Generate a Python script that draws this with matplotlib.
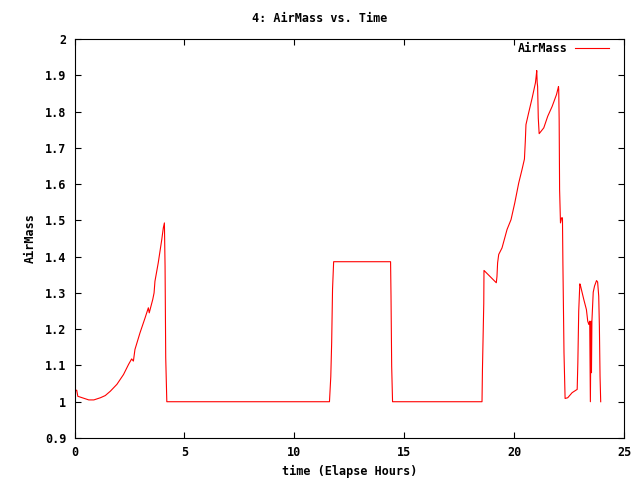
import matplotlib
matplotlib.use("Agg")
import matplotlib.pyplot as plt

time_h = [0.0, 0.1, 0.15, 0.35, 0.65, 0.88, 1.18, 1.4, 1.63, 1.93, 2.23, 2.46, 2.6, 2.68,
          2.75, 2.98, 3.21, 3.36, 3.4, 3.56, 3.62, 3.66, 3.81, 3.97, 4.04, 4.09, 4.12, 4.15, 4.2,
          11.6, 11.62, 11.66, 11.70, 11.74, 11.79, 14.38, 14.40, 14.43, 14.47,
          18.54, 18.56, 18.62, 18.63, 19.19, 19.22, 19.25, 19.3, 19.45, 19.68, 19.86, 20.03,
          20.21, 20.36, 20.47, 20.51, 20.54, 20.66, 20.82, 20.97, 21.0, 21.03, 21.05, 21.07,
          21.1, 21.14, 21.35, 21.53, 21.73, 21.93, 22.02, 22.03, 22.05, 22.07, 22.11, 22.16,
          22.2, 22.22, 22.27, 22.32, 22.44, 22.64, 22.87, 22.90, 22.94, 22.99, 23.02, 23.17,
          23.29, 23.35, 23.40, 23.44, 23.47, 23.50, 23.52, 23.54, 23.6, 23.66, 23.75, 23.8,
          23.85, 23.88, 23.91, 23.94]
airmass = [1.028, 1.032, 1.015, 1.011, 1.005, 1.005, 1.011, 1.017, 1.029, 1.048, 1.075, 1.103,
           1.118, 1.112, 1.144, 1.19, 1.231, 1.259, 1.245, 1.282, 1.30, 1.332, 1.383, 1.447,
           1.479, 1.493, 1.374, 1.122, 1.0,
           1.0, 1.023, 1.069, 1.163, 1.311, 1.386, 1.386, 1.291, 1.098, 1.0,
           1.0, 1.089, 1.271, 1.362, 1.328, 1.345, 1.383, 1.406, 1.424, 1.475, 1.502, 1.548,
           1.603, 1.64, 1.669, 1.718, 1.764, 1.796, 1.837, 1.879, 1.895, 1.913, 1.88, 1.869,
           1.782, 1.739, 1.755, 1.787, 1.814, 1.847, 1.869, 1.86, 1.778, 1.585, 1.493, 1.507,
           1.507, 1.383, 1.135, 1.009, 1.011, 1.025, 1.034, 1.107, 1.25, 1.325, 1.32, 1.282,
           1.254, 1.222, 1.213, 1.222, 1.0, 1.222, 1.08, 1.222, 1.302, 1.319, 1.334, 1.33,
           1.291, 1.208, 1.07, 1.0]

xticks = [0, 5, 10, 15, 20, 25]
yticks = [0.9, 1.0, 1.1, 1.2, 1.3, 1.4, 1.5, 1.6, 1.7, 1.8, 1.9, 2.0]
ytick_labels = ["0.9", "1", "1.1", "1.2", "1.3", "1.4", "1.5", "1.6", "1.7", "1.8", "1.9", "2"]

plt.rcParams['font.family'] = ['DejaVu Sans Mono']
plt.rcParams['font.weight'] = 'bold'
fs = 8.5

fig = plt.figure(figsize=(6.4, 4.8), dpi=100)
ax_w = (624 - 74.5) / 640
ax_h = (438 - 39) / 480
ax = fig.add_axes([74.5/640, 1-438/480, ax_w, ax_h])
ax.plot(time_h, airmass, color='#ff0000', lw=0.8, label='AirMass')
ax.set_xlim(0, 25)
ax.set_ylim(0.9, 2.0)
ax.set_xticks(xticks)
ax.set_xticklabels([str(t) for t in xticks], fontsize=fs, fontweight='bold')
ax.set_yticks(yticks)
ax.set_yticklabels(ytick_labels, fontsize=fs, fontweight='bold')
ax.tick_params(direction='in', top=True, right=True, length=4.5, width=0.8, pad=6)
for s in ax.spines.values():
    s.set_linewidth(0.8)
ax.set_xlabel('time (Elapse Hours)', fontsize=fs, fontweight='bold', labelpad=4)
ax.set_ylabel('AirMass', fontsize=fs, fontweight='bold', labelpad=6)
fig.text(0.5, 1-18/480, '4: AirMass vs. Time', ha='center', va='center', fontsize=fs,
         fontweight='bold')
leg = ax.legend(loc='upper right', frameon=False, markerfirst=False,
                prop={'size': fs, 'weight': 'bold'},
                handlelength=2.9, borderaxespad=0, borderpad=0, handletextpad=0.6,
                bbox_to_anchor=(1 - 15/549.5, 1 - 3/399))
fig.savefig('out.png', dpi=100)
